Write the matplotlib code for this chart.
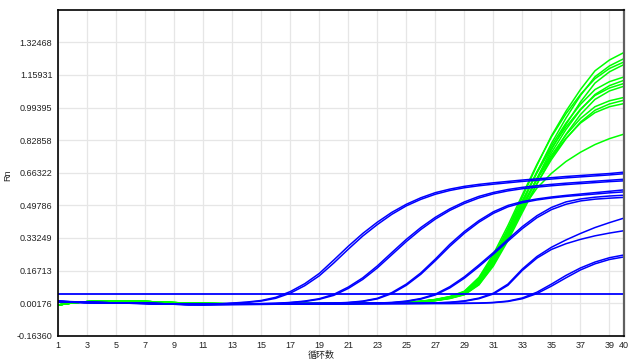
import matplotlib
matplotlib.use("Agg")
import matplotlib.pyplot as plt

plt.rcParams['font.family'] = ['Liberation Sans', 'Noto Sans CJK SC', 'DejaVu Sans']

cycles = list(range(1, 41))
x_ticks = list(range(1, 40, 2)) + [40]
y_ticks = [-0.16360, 0.00176, 0.16713, 0.33249, 0.49786, 0.66322, 0.82858, 0.99395, 1.15931, 1.32468]
y_tick_labels = ["-0.16360", "0.00176", "0.16713", "0.33249", "0.49786", "0.66322",
                 "0.82858", "0.99395", "1.15931", "1.32468"]
y_limits = (-0.16360, 1.49005)
threshold = 0.048

# Blue samples (duplicate pairs)
blue_A1 = [0.010, 0.007, 0.005, 0.004, 0.003, 0.002, 0.001, -0.001, -0.003, -0.004, -0.004, -0.002, 0.002, 0.007, 0.015, 0.031, 0.060, 0.100, 0.152, 0.220, 0.290, 0.355, 0.412, 0.462, 0.503, 0.536, 0.562, 0.580, 0.594, 0.604, 0.612, 0.619, 0.626, 0.632, 0.638, 0.644, 0.649, 0.654, 0.659, 0.666]
blue_A2 = [0.012, 0.009, 0.006, 0.004, 0.003, 0.002, 0.000, -0.002, -0.003, -0.004, -0.004, -0.003, 0.001, 0.005, 0.012, 0.026, 0.052, 0.090, 0.140, 0.205, 0.275, 0.342, 0.400, 0.452, 0.495, 0.528, 0.554, 0.573, 0.587, 0.597, 0.605, 0.612, 0.619, 0.625, 0.631, 0.637, 0.642, 0.647, 0.652, 0.658]
blue_B1 = [0.010, 0.007, 0.005, 0.004, 0.003, 0.002, 0.001, -0.001, -0.003, -0.005, -0.005, -0.004, -0.003, -0.002, -0.001, 0.001, 0.005, 0.012, 0.024, 0.046, 0.083, 0.130, 0.190, 0.258, 0.325, 0.385, 0.437, 0.480, 0.515, 0.543, 0.563, 0.578, 0.589, 0.597, 0.604, 0.610, 0.615, 0.620, 0.625, 0.630]
blue_B2 = [0.011, 0.008, 0.006, 0.004, 0.003, 0.001, 0.000, -0.002, -0.004, -0.005, -0.005, -0.004, -0.003, -0.002, -0.001, 0.000, 0.004, 0.010, 0.021, 0.041, 0.076, 0.122, 0.180, 0.247, 0.314, 0.375, 0.428, 0.472, 0.507, 0.535, 0.556, 0.571, 0.582, 0.590, 0.597, 0.603, 0.608, 0.613, 0.618, 0.622]
blue_C1 = [0.010, 0.007, 0.005, 0.004, 0.003, 0.002, 0.001, -0.001, -0.003, -0.005, -0.005, -0.004, -0.003, -0.002, -0.002, -0.001, -0.001, 0.000, 0.001, 0.002, 0.005, 0.012, 0.026, 0.055, 0.098, 0.155, 0.225, 0.300, 0.365, 0.420, 0.465, 0.497, 0.517, 0.530, 0.540, 0.548, 0.555, 0.562, 0.569, 0.576]
blue_C2 = [0.011, 0.008, 0.005, 0.004, 0.002, 0.001, 0.000, -0.002, -0.004, -0.005, -0.005, -0.004, -0.003, -0.003, -0.002, -0.002, -0.001, 0.000, 0.000, 0.001, 0.004, 0.010, 0.023, 0.050, 0.092, 0.148, 0.217, 0.290, 0.356, 0.412, 0.457, 0.490, 0.511, 0.525, 0.535, 0.543, 0.549, 0.555, 0.561, 0.566]
blue_D1 = [0.010, 0.007, 0.005, 0.004, 0.003, 0.002, 0.001, -0.001, -0.003, -0.005, -0.005, -0.004, -0.003, -0.003, -0.002, -0.002, -0.001, -0.001, 0.000, 0.000, 0.001, 0.001, 0.002, 0.005, 0.012, 0.025, 0.047, 0.085, 0.135, 0.195, 0.258, 0.325, 0.390, 0.445, 0.487, 0.515, 0.530, 0.539, 0.545, 0.549]
blue_D2 = [0.009, 0.006, 0.004, 0.003, 0.002, 0.001, 0.000, -0.002, -0.004, -0.005, -0.006, -0.005, -0.004, -0.003, -0.003, -0.002, -0.002, -0.001, -0.001, 0.000, 0.000, 0.001, 0.002, 0.004, 0.010, 0.022, 0.043, 0.079, 0.128, 0.187, 0.250, 0.316, 0.380, 0.435, 0.476, 0.503, 0.520, 0.529, 0.534, 0.538]
blue_E1 = [0.010, 0.007, 0.005, 0.004, 0.003, 0.002, 0.001, -0.001, -0.003, -0.005, -0.005, -0.004, -0.004, -0.003, -0.003, -0.002, -0.002, -0.002, -0.001, -0.001, 0.000, 0.000, 0.000, 0.001, 0.001, 0.002, 0.003, 0.006, 0.013, 0.027, 0.052, 0.098, 0.175, 0.238, 0.285, 0.322, 0.355, 0.385, 0.410, 0.433]
blue_E2 = [0.011, 0.008, 0.006, 0.004, 0.003, 0.002, 0.000, -0.002, -0.004, -0.005, -0.005, -0.005, -0.004, -0.004, -0.003, -0.003, -0.002, -0.002, -0.001, -0.001, -0.001, 0.000, 0.000, 0.000, 0.001, 0.001, 0.002, 0.005, 0.011, 0.024, 0.048, 0.092, 0.168, 0.230, 0.274, 0.303, 0.325, 0.343, 0.357, 0.369]
blue_F1 = [0.010, 0.007, 0.005, 0.004, 0.003, 0.002, 0.001, -0.001, -0.003, -0.005, -0.006, -0.006, -0.005, -0.005, -0.004, -0.004, -0.003, -0.003, -0.003, -0.002, -0.002, -0.002, -0.001, -0.001, -0.001, 0.000, 0.000, 0.000, 0.001, 0.002, 0.005, 0.012, 0.028, 0.057, 0.098, 0.142, 0.180, 0.210, 0.232, 0.246]
blue_F2 = [0.009, 0.006, 0.004, 0.003, 0.002, 0.001, 0.000, -0.002, -0.004, -0.006, -0.006, -0.006, -0.006, -0.005, -0.005, -0.004, -0.004, -0.003, -0.003, -0.003, -0.002, -0.002, -0.002, -0.001, -0.001, -0.001, 0.000, 0.000, 0.000, 0.001, 0.004, 0.010, 0.024, 0.050, 0.088, 0.130, 0.170, 0.201, 0.223, 0.236]

# Green samples: shared flat start (cycles 1-24) then each curve's own values (cycles 25-40)
green_start = [-0.008, 0.003, 0.009, 0.012, 0.013, 0.012, 0.010, 0.007, 0.004, 0.002, 0.000, -0.001, -0.002, -0.002, -0.002, -0.002, -0.002, -0.001, -0.001, 0.000, 0.000, 0.001, 0.002, 0.003]
green_G1 = [0.005, 0.010, 0.018, 0.031, 0.055, 0.120, 0.235, 0.380, 0.540, 0.700, 0.850, 0.975, 1.085, 1.180, 1.235, 1.273]
green_G2 = [0.004, 0.009, 0.016, 0.028, 0.049, 0.105, 0.212, 0.352, 0.508, 0.665, 0.812, 0.940, 1.055, 1.150, 1.205, 1.242]
green_G3 = [0.005, 0.011, 0.020, 0.035, 0.062, 0.132, 0.250, 0.395, 0.552, 0.705, 0.845, 0.962, 1.060, 1.140, 1.192, 1.225]
green_G4 = [0.004, 0.008, 0.015, 0.026, 0.045, 0.096, 0.196, 0.330, 0.482, 0.635, 0.780, 0.908, 1.022, 1.118, 1.175, 1.212]
green_G5 = [0.005, 0.010, 0.018, 0.032, 0.056, 0.120, 0.230, 0.368, 0.520, 0.668, 0.800, 0.915, 1.010, 1.085, 1.125, 1.149]
green_G6 = [0.004, 0.008, 0.015, 0.027, 0.048, 0.102, 0.205, 0.338, 0.485, 0.630, 0.765, 0.882, 0.982, 1.060, 1.105, 1.132]
green_G7 = [0.005, 0.011, 0.020, 0.034, 0.060, 0.126, 0.238, 0.375, 0.522, 0.662, 0.788, 0.895, 0.985, 1.055, 1.093, 1.116]
green_G8 = [0.004, 0.008, 0.014, 0.025, 0.044, 0.094, 0.190, 0.318, 0.462, 0.605, 0.740, 0.858, 0.958, 1.035, 1.078, 1.102]
green_G9 = [0.005, 0.010, 0.018, 0.031, 0.054, 0.114, 0.220, 0.352, 0.495, 0.632, 0.752, 0.855, 0.938, 0.998, 1.028, 1.045]
green_G10 = [0.004, 0.009, 0.016, 0.028, 0.049, 0.104, 0.205, 0.332, 0.472, 0.608, 0.730, 0.835, 0.920, 0.980, 1.012, 1.031]
green_G11 = [0.005, 0.010, 0.019, 0.033, 0.057, 0.120, 0.228, 0.360, 0.500, 0.630, 0.742, 0.838, 0.915, 0.968, 0.998, 1.014]
green_G12 = [0.004, 0.009, 0.016, 0.028, 0.050, 0.106, 0.205, 0.345, 0.480, 0.585, 0.660, 0.720, 0.767, 0.806, 0.836, 0.859]

blue_series = [blue_A1, blue_A2, blue_B1, blue_B2, blue_C1, blue_C2,
               blue_D1, blue_D2, blue_E1, blue_E2, blue_F1, blue_F2]
green_series = [green_G1, green_G2, green_G3, green_G4, green_G5, green_G6,
                green_G7, green_G8, green_G9, green_G10, green_G11, green_G12]

BLUE = '#0000FF'
GREEN = '#00FF00'

fig = plt.figure(figsize=(6.4, 3.64), dpi=100)
ax = fig.add_axes([58 / 640, 1 - 335.7 / 364, 566 / 640, 326 / 364])

for g in green_series:
    ax.plot(cycles, green_start + g, color=GREEN, lw=1.1, solid_joinstyle='round')
for b in blue_series:
    ax.plot(cycles, b, color=BLUE, lw=1.1, solid_joinstyle='round')
ax.axhline(threshold, color=BLUE, lw=1.3)

ax.set_xlim(1, 40)
ax.set_ylim(*y_limits)
ax.set_xticks(x_ticks)
ax.set_xticklabels([str(t) for t in x_ticks])
ax.set_yticks(y_ticks)
ax.set_yticklabels(y_tick_labels)
ax.tick_params(axis='both', length=0, labelsize=6.5, colors='#222222')
ax.tick_params(axis='y', pad=4)
ax.tick_params(axis='x', pad=4)
ax.grid(True, color='#e6e6e6', lw=0.9)
ax.set_axisbelow(True)

for side in ['left', 'bottom', 'top']:
    ax.spines[side].set_color('black')
    ax.spines[side].set_linewidth(1.2)
ax.spines['right'].set_color('#606060')
ax.spines['right'].set_linewidth(1.6)

fig.text(321 / 640, 1 - 355 / 364, '循环数', ha='center', va='center',
         fontsize=6.5, family=['Noto Sans CJK SC', 'DejaVu Sans'], color='#222222')
fig.text(8 / 640, 1 - 175 / 364, 'Rn', ha='center', va='center', rotation=90,
         fontsize=6.5, color='#222222')

fig.savefig('out.png', dpi=100)
